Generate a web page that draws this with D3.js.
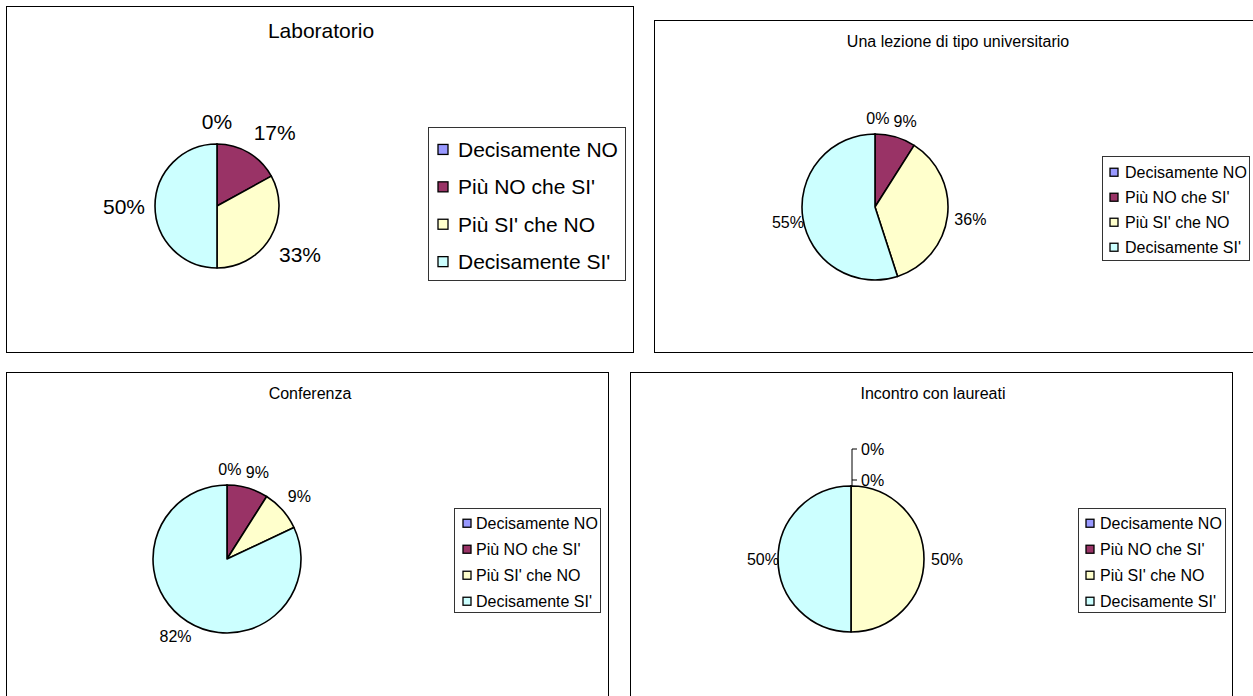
<!DOCTYPE html>
<html><head><meta charset="utf-8">
<script src="https://cdn.jsdelivr.net/npm/d3@7"></script>
<style>
html,body{margin:0;padding:0;background:#fff;}
svg{display:block;font-family:"Liberation Sans",Arial,Helvetica,sans-serif;}
</style>
</head><body>
<svg id="chart" width="1253" height="696"></svg>
<script>
// ---- data ----
const categories = ["Decisamente NO", "Più NO che SI'", "Più SI' che NO", "Decisamente SI'"];
const titles = ["Laboratorio", "Una lezione di tipo universitario", "Conferenza", "Incontro con laureati"];
const laboratorio = [0, 17, 33, 50];
const lezioneUniversitaria = [0, 9, 36, 55];
const conferenza = [0, 9, 9, 82];
const incontroLaureati = [0, 0, 50, 50];
const seriesValues = [laboratorio, lezioneUniversitaria, conferenza, incontroLaureati];

// ---- styles / layout ----
const sliceColors = ["#9999FF", "#993366", "#FFFFCC", "#CCFFFF"];
const layout = [
  {box:[6,6,627,346], titleX:321, titleY:38, titleSize:21, cx:217, cy:206, r:62, labelSize:21, pad:10, eff:1,
   legend:{x:428, y:127, w:197, h:153, sq:10, sqX:10, textX:30, first:30, step:37.4, size:21}},
  {box:[654,20,608,332], titleX:958, titleY:47, titleSize:16, cx:875, cy:207, r:73, labelSize:16, pad:7, eff:0.75,
   legend:{x:1102, y:156, w:147, h:104, sq:8, sqX:8, textX:23, first:22, step:25, size:16}},
  {box:[6,372,602,340], titleX:310, titleY:399, titleSize:16, cx:227, cy:559, r:74, labelSize:16, pad:7, eff:0.75,
   legend:{x:454, y:508, w:146, h:104, sq:8, sqX:9, textX:22, first:21, step:26, size:16}},
  {box:[630,372,602,340], titleX:933, titleY:399, titleSize:16, cx:851, cy:559, r:73, labelSize:16, pad:7, eff:0.75,
   legend:{x:1078, y:508, w:147, h:104, sq:8, sqX:8, textX:22, first:21, step:26, size:16}}
];

const svg = d3.select("#chart");
const color = d3.scaleOrdinal().domain(categories).range(sliceColors);
const pie = d3.pie().sort(null).value(d => d.value);

seriesValues.forEach((vals, pi) => {
  const L = layout[pi];
  const g = svg.append("g");
  // panel frame
  g.append("rect").attr("x", L.box[0] + 0.5).attr("y", L.box[1] + 0.5)
    .attr("width", L.box[2]).attr("height", L.box[3])
    .attr("fill", "#fff").attr("stroke", "#000").attr("stroke-width", 1);
  // title
  g.append("text").attr("x", L.titleX).attr("y", L.titleY).attr("text-anchor", "middle")
    .attr("font-size", L.titleSize).attr("fill", "#000").text(titles[pi]);

  const data = categories.map((c, i) => ({cat: c, value: vals[i]}));
  const total = d3.sum(vals);
  const arcs = pie(data);
  const arc = d3.arc().innerRadius(0).outerRadius(L.r);
  const pg = g.append("g").attr("transform", `translate(${L.cx},${L.cy})`);
  pg.selectAll("path").data(arcs).join("path")
    .attr("d", arc)
    .attr("fill", d => color(d.data.cat))
    .attr("stroke", "#000").attr("stroke-width", 1.6).attr("stroke-linejoin", "round");

  // labels
  const fs = L.labelSize;
  const items = arcs.map((a, i) => {
    const mid = (a.startAngle + a.endAngle) / 2;
    return {a, i, mid, ux: Math.sin(mid), uy: -Math.cos(mid),
            text: Math.round(a.data.value / total * 100) + "%"};
  });
  const groups = d3.groups(items, d => d.mid.toFixed(4));
  groups.forEach(([key, grp]) => {
    if (grp.length > 1) {
      // stacked labels with leader line
      const d0 = grp[0];
      const px = L.cx + d0.ux * L.r, py = L.cy + d0.uy * L.r;
      const ticks = [];
      grp.slice().reverse().forEach((d, k) => {
        const ty = py - 6 - k * 31;
        ticks.push(ty);
        g.append("text").attr("x", px + 10).attr("y", ty + 0.36 * fs)
          .attr("font-size", fs).attr("fill", "#000").text(d.text);
      });
      const topY = d3.min(ticks);
      let p = `M${px + 1},${py} L${px + 1},${topY}`;
      ticks.forEach(ty => { p += ` M${px + 1},${ty} L${px + 6},${ty}`; });
      g.append("path").attr("d", p).attr("fill", "none").attr("stroke", "#000").attr("stroke-width", 1);
    } else {
      const d = grp[0];
      const t = g.append("text").attr("font-size", fs).attr("fill", "#000").text(d.text);
      const w = t.node().getComputedTextLength() * L.eff;
      const h = fs * 1.15;
      const R = L.r + L.pad;
      const ax = L.cx + d.ux * R, ay = L.cy + d.uy * R;
      const ox = Math.max(-1, Math.min(1, d.ux * 2)) * w / 2;
      const oy = Math.max(-1, Math.min(1, d.uy * 2)) * h / 2;
      const bx = ax + ox, by = ay + oy;
      t.attr("x", bx - w / 2).attr("y", by + 0.36 * fs);
    }
  });

  // legend
  const lg = L.legend;
  g.append("rect").attr("x", lg.x + 0.5).attr("y", lg.y + 0.5).attr("width", lg.w).attr("height", lg.h)
    .attr("fill", "#fff").attr("stroke", "#333").attr("stroke-width", 1);
  categories.forEach((c, i) => {
    const base = lg.y + lg.first + i * lg.step;
    const cyy = base - 0.36 * lg.size;
    g.append("rect").attr("x", lg.x + lg.sqX).attr("y", cyy - lg.sq / 2)
      .attr("width", lg.sq).attr("height", lg.sq)
      .attr("fill", color(c)).attr("stroke", "#000").attr("stroke-width", 1.3);
    g.append("text").attr("x", lg.x + lg.textX).attr("y", base)
      .attr("font-size", lg.size).attr("fill", "#000").text(c);
  });
});
</script>
</body></html>
